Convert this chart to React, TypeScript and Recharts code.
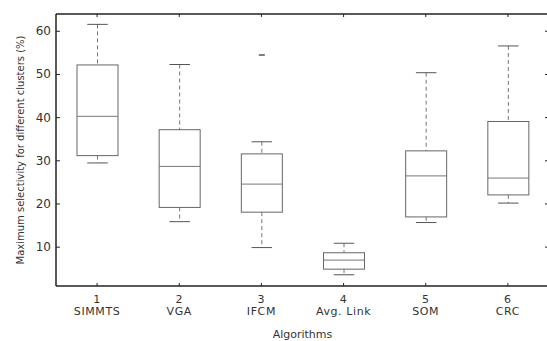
import React from "react";
import { ComposedChart, Bar, XAxis, YAxis, Label } from "recharts";

const algorithms = ["SIMMTS", "VGA", "IFCM", "Avg. Link", "SOM", "CRC"];
const lowerWhisker = [29.5, 15.9, 9.9, 3.6, 15.7, 20.2];
const lowerQuartile = [31.2, 19.2, 18.1, 4.9, 17.0, 22.1];
const medians = [40.3, 28.7, 24.6, 7.0, 26.5, 26.0];
const upperQuartile = [52.2, 37.2, 31.6, 8.7, 32.3, 39.1];
const upperWhisker = [61.6, 52.3, 34.4, 10.9, 50.4, 56.6];
const outliers: number[][] = [[], [], [54.5], [], [], []];
const yTicks = [10, 20, 30, 40, 50, 60];

const FONT = "'DejaVu Sans', sans-serif";
const AXIS = "#222";
const BOX = "#666";

const data = algorithms.map((name, i) => {
  const all = [lowerWhisker[i], upperWhisker[i], ...outliers[i]];
  return {
    idx: String(i + 1),
    name,
    lw: lowerWhisker[i],
    q1: lowerQuartile[i],
    med: medians[i],
    q3: upperQuartile[i],
    uw: upperWhisker[i],
    out: outliers[i],
    range: [Math.min(...all), Math.max(...all)],
  };
});

// the bar spans [range lo, range hi]; other values are placed on the same linear scale
const BoxShape = (props: any) => {
  const { x, y, width, height, payload } = props;
  if (!payload) return null;
  const top = Math.min(y, y + height);
  const h = Math.abs(height);
  const [lo, hi] = payload.range;
  const toY = (v: number) => top + ((hi - v) / (hi - lo)) * h;
  const cx = x + width / 2;
  const cap = width / 4;
  return (
    <g>
      <line x1={cx} x2={cx} y1={toY(payload.uw)} y2={toY(payload.q3)} stroke="#777" strokeDasharray="4 3" />
      <line x1={cx} x2={cx} y1={toY(payload.q1)} y2={toY(payload.lw)} stroke="#777" strokeDasharray="4 3" />
      <line x1={cx - cap} x2={cx + cap} y1={toY(payload.uw)} y2={toY(payload.uw)} stroke="#555" />
      <line x1={cx - cap} x2={cx + cap} y1={toY(payload.lw)} y2={toY(payload.lw)} stroke="#555" />
      <rect
        x={x}
        y={toY(payload.q3)}
        width={width}
        height={toY(payload.q1) - toY(payload.q3)}
        fill="none"
        stroke={BOX}
      />
      <line x1={x} x2={x + width} y1={toY(payload.med)} y2={toY(payload.med)} stroke="#777" />
      {payload.out.map((v: number, k: number) => (
        <line key={k} x1={cx - 3} x2={cx + 3} y1={toY(v)} y2={toY(v)} stroke="#555" strokeWidth={1.5} />
      ))}
    </g>
  );
};

const LeftTick = (props: any) => {
  const { x, y, payload } = props;
  return (
    <g>
      <line x1={x} x2={x + 4} y1={y} y2={y} stroke={AXIS} />
      <text x={x - 5} y={y} dy={4} textAnchor="end" fontSize={12} fontFamily={FONT} fill="#333">
        {payload.value}
      </text>
    </g>
  );
};

const RightTick = (props: any) => {
  const { x, y } = props;
  return <line x1={x} x2={x - 4} y1={y} y2={y} stroke={AXIS} />;
};

const BottomTick = (props: any) => {
  const { x, y, payload, index } = props;
  return (
    <g>
      <line x1={x} x2={x} y1={y} y2={y - 3} stroke={AXIS} />
      <text x={x} y={y + 17} textAnchor="middle" fontSize={11} fontFamily={FONT} fill="#333" letterSpacing={0.6}>
        {payload.value}
      </text>
      <text x={x} y={y + 29} textAnchor="middle" fontSize={11} fontFamily={FONT} fill="#333" letterSpacing={0.6}>
        {algorithms[index]}
      </text>
    </g>
  );
};

const TopTick = (props: any) => {
  const { x, y } = props;
  return <line x1={x} x2={x} y1={y} y2={y + 3} stroke={AXIS} />;
};

export default function App() {
  return (
    <div style={{ position: "absolute", left: 0, top: 0, width: 547, height: 341, overflow: "hidden", background: "#fff" }}>
      <ComposedChart width={550} height={341} data={data} margin={{ top: 13, right: 0, bottom: 0, left: 0 }}>
        <XAxis
          dataKey="idx"
          type="category"
          height={55}
          tickSize={0}
          tickMargin={0}
          tick={<BottomTick />}
          axisLine={{ stroke: AXIS, strokeWidth: 1.5 }}
          interval={0}
        >
          <Label value="Algorithms" position="insideBottom" offset={3} fontSize={11} fontFamily={FONT} fill="#333" />
        </XAxis>
        <XAxis
          xAxisId="top"
          dataKey="idx"
          type="category"
          orientation="top"
          height={1}
          tickSize={0}
          tickMargin={0}
          tick={<TopTick />}
          axisLine={{ stroke: AXIS, strokeWidth: 1.5 }}
          interval={0}
        />
        <YAxis
          domain={[1, 64]}
          ticks={yTicks}
          width={56}
          tickSize={0}
          tickMargin={0}
          tick={<LeftTick />}
          axisLine={{ stroke: AXIS, strokeWidth: 1.5 }}
          allowDataOverflow
        >
          <Label
            value="Maximum selectivity for different clusters (%)"
            angle={-90}
            position="insideLeft"
            offset={20}
            fontSize={10}
            fontFamily={FONT}
            fill="#333"
            style={{ textAnchor: "middle" }}
          />
        </YAxis>
        <YAxis
          yAxisId="right"
          orientation="right"
          domain={[1, 64]}
          ticks={yTicks}
          width={1}
          tickSize={0}
          tickMargin={0}
          tick={<RightTick />}
          axisLine={{ stroke: AXIS, strokeWidth: 1.5 }}
          allowDataOverflow
        />
        <Bar dataKey="range" barSize={41} shape={<BoxShape />} isAnimationActive={false} />
      </ComposedChart>
    </div>
  );
}
